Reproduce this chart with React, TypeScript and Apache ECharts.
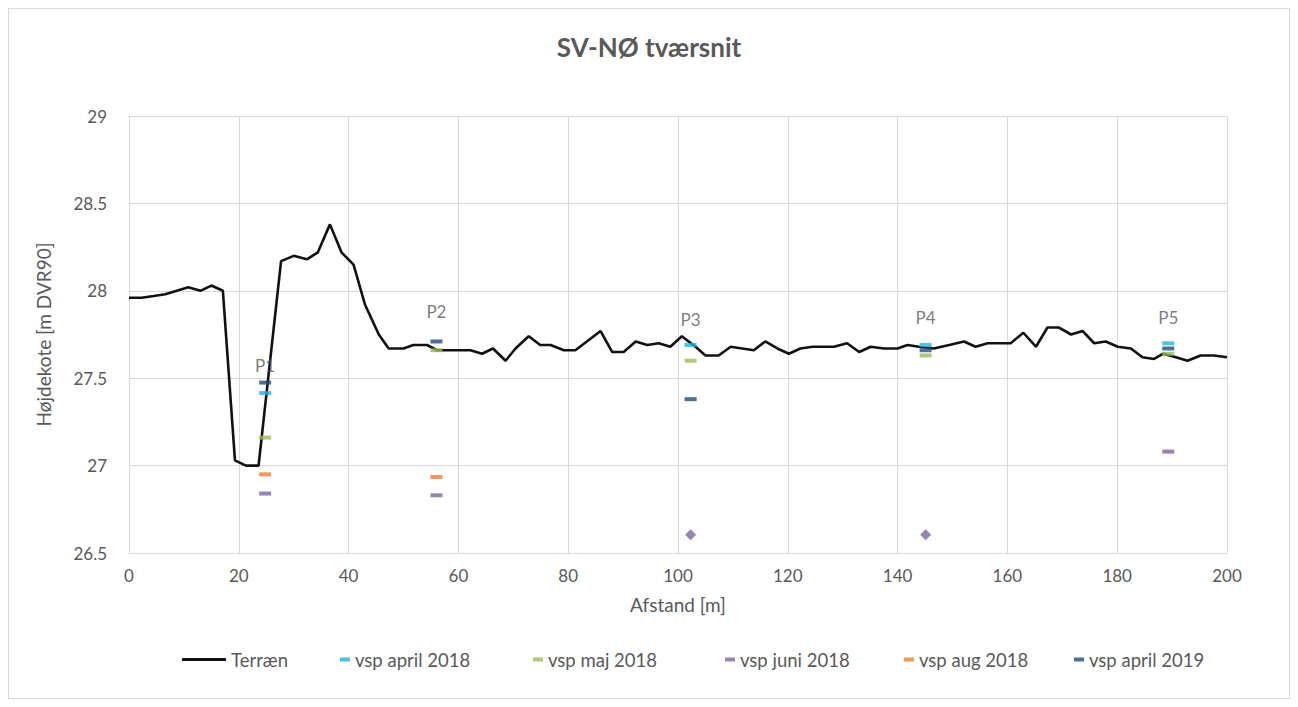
import React, { useEffect, useRef } from "react";
import * as echarts from "echarts";

const terrainX = [0, 2.3, 4.5, 6.6, 8.7, 10.8, 13, 15, 17.1, 19.3, 21.3, 23.6, 27.7, 30, 32.4, 34.4, 36.6, 38.7, 40.9, 43, 45.5, 47.3, 50, 51.8, 54.3, 56.1, 57.9, 60, 62.2, 64.3, 66.3, 68.6, 70.4, 72.8, 74.9, 76.8, 79.2, 81.3, 83.4, 85.9, 88, 90.1, 92.3, 94.4, 96.5, 98.6, 100.7, 103.2, 105, 107.4, 109.6, 111.7, 113.8, 115.9, 118.1, 120.2, 122.3, 124.5, 126.6, 128.4, 130.8, 133, 135.1, 137.5, 140, 141.8, 143.9, 146.6, 149.4, 152.1, 154.2, 156.4, 158.5, 160.6, 162.9, 165.2, 167.3, 169.4, 171.6, 173.7, 175.8, 177.9, 180.1, 182.5, 184.6, 186.7, 188.4, 190.7, 192.8, 195.2, 197.6, 200];
const terrainY = [27.96, 27.96, 27.97, 27.98, 28.0, 28.02, 28.0, 28.03, 28.0, 27.03, 27.0, 27.0, 28.17, 28.2, 28.18, 28.22, 28.38, 28.22, 28.15, 27.92, 27.75, 27.67, 27.67, 27.69, 27.69, 27.66, 27.66, 27.66, 27.66, 27.64, 27.67, 27.6, 27.67, 27.74, 27.69, 27.69, 27.66, 27.66, 27.71, 27.77, 27.65, 27.65, 27.71, 27.69, 27.7, 27.68, 27.74, 27.68, 27.63, 27.63, 27.68, 27.67, 27.66, 27.71, 27.67, 27.64, 27.67, 27.68, 27.68, 27.68, 27.7, 27.65, 27.68, 27.67, 27.67, 27.69, 27.68, 27.67, 27.69, 27.71, 27.68, 27.7, 27.7, 27.7, 27.76, 27.68, 27.79, 27.79, 27.75, 27.77, 27.7, 27.71, 27.68, 27.67, 27.62, 27.61, 27.64, 27.62, 27.6, 27.63, 27.63, 27.62];

const pointNames = ["P1", "P2", "P3", "P4", "P5"];
const pointX = [24.8, 56, 102.3, 145.1, 189.3];
const pointLabelY = [27.57, 27.88, 27.835, 27.85, 27.85];

const april2018X = [24.8, 102.3, 145.1, 189.3];
const april2018Y = [27.415, 27.69, 27.69, 27.7];
const maj2018X = [24.8, 56, 102.3, 145.1, 189.3];
const maj2018Y = [27.16, 27.66, 27.6, 27.63, 27.64];
const juni2018X = [24.8, 56, 189.3];
const juni2018Y = [26.84, 26.83, 27.08];
const juniDiamondX = [102.3, 145.1];
const juniDiamondY = [26.605, 26.605];
const aug2018X = [24.8, 56];
const aug2018Y = [26.95, 26.935];
const april2019X = [24.8, 56, 102.3, 145.1, 189.3];
const april2019Y = [27.475, 27.71, 27.38, 27.66, 27.67];

const FONT = "Lato";
const TEXT = "#595959";

const C_APR18 = "#1fb4e6";
const C_MAJ18 = "#9bbb59";
const C_JUN18 = "#8064a2";
const C_AUG18 = "#ed7d31";
const C_APR19 = "#1f4e79";

const zip = (xs: number[], ys: number[]) => xs.map((x, i) => [x, ys[i]]);

export default function App() {
  const ref = useRef<HTMLDivElement>(null);
  useEffect(() => {
    if (!ref.current) return;
    const chart = echarts.init(ref.current, undefined, { renderer: "svg" });
    const dash = { symbol: "rect", symbolSize: [12, 4] };
    const legendText = { fontFamily: FONT, fontSize: 18.5, color: TEXT };
    const legendPos = [
      { name: "Terræn", left: 173, w: 44, h: 3 },
      { name: "vsp april 2018", left: 331, w: 10, h: 4 },
      { name: "vsp maj 2018", left: 524, w: 10, h: 4 },
      { name: "vsp juni 2018", left: 716, w: 10, h: 4 },
      { name: "vsp aug 2018", left: 895, w: 10, h: 4 },
      { name: "vsp april 2019", left: 1065, w: 10, h: 4 },
    ];
    chart.setOption({
      animation: false,
      backgroundColor: "#ffffff",
      title: {
        text: "SV-NØ tværsnit",
        left: "center",
        top: 20,
        textStyle: { fontFamily: FONT, fontSize: 26, fontWeight: "bold", color: TEXT },
      },
      legend: legendPos.map((l) => ({
        data: [{ name: l.name, icon: "rect" }],
        left: l.left,
        top: 641,
        padding: 0,
        itemWidth: l.w,
        itemHeight: l.h,
        itemGap: 10,
        textStyle: legendText,
        selectedMode: false,
      })),
      grid: { left: 120, right: 62, top: 107, bottom: 145, containLabel: false },
      xAxis: {
        type: "value",
        min: 0,
        max: 200,
        interval: 20,
        name: "Afstand [m]",
        nameLocation: "middle",
        nameGap: 42,
        nameTextStyle: { fontFamily: FONT, fontSize: 19, color: TEXT },
        axisLine: { show: true, lineStyle: { color: "#d9d9d9", width: 1 } },
        axisTick: { show: false },
        axisLabel: { fontFamily: FONT, fontSize: 17, color: TEXT, margin: 14 },
        splitLine: { show: true, lineStyle: { color: "#d9d9d9", width: 1 } },
      },
      yAxis: {
        type: "value",
        min: 26.5,
        max: 29,
        interval: 0.5,
        name: "Højdekote [m DVR90]",
        nameLocation: "middle",
        nameGap: 76,
        nameTextStyle: { fontFamily: FONT, fontSize: 19, color: TEXT },
        axisLine: { show: true, lineStyle: { color: "#d9d9d9", width: 1 } },
        axisTick: { show: false },
        axisLabel: { fontFamily: FONT, fontSize: 17, color: TEXT, margin: 22 },
        splitLine: { show: true, lineStyle: { color: "#d9d9d9", width: 1 } },
      },
      series: [
        {
          name: "Terræn",
          type: "line",
          data: zip(terrainX, terrainY),
          symbol: "none",
          lineStyle: { color: "#111111", width: 2.6 },
          itemStyle: { color: "#111111" },
          z: 3,
        },
        {
          name: "vsp april 2018",
          type: "scatter",
          data: zip(april2018X, april2018Y),
          ...dash,
          itemStyle: { color: C_APR18 },
          z: 4,
        },
        {
          name: "vsp maj 2018",
          type: "scatter",
          data: zip(maj2018X, maj2018Y),
          ...dash,
          itemStyle: { color: C_MAJ18 },
          z: 4,
        },
        {
          name: "vsp juni 2018",
          type: "scatter",
          data: [
            ...zip(juni2018X, juni2018Y),
            ...zip(juniDiamondX, juniDiamondY).map((v) => ({ value: v, symbol: "diamond", symbolSize: [11, 11] })),
          ],
          ...dash,
          itemStyle: { color: C_JUN18 },
          z: 4,
        },
        {
          name: "vsp aug 2018",
          type: "scatter",
          data: zip(aug2018X, aug2018Y),
          ...dash,
          itemStyle: { color: C_AUG18 },
          z: 4,
        },
        {
          name: "vsp april 2019",
          type: "scatter",
          data: zip(april2019X, april2019Y),
          ...dash,
          itemStyle: { color: C_APR19 },
          z: 5,
        },
        {
          name: "labels",
          type: "scatter",
          data: pointNames.map((n, i) => ({ name: n, value: [pointX[i], pointLabelY[i]] })),
          symbolSize: 0,
          silent: true,
          label: {
            show: true,
            position: "inside",
            formatter: (p: any) => p.name,
            fontFamily: FONT,
            fontSize: 17,
            color: TEXT,
          },
          z: 6,
        },
      ],
    });
    return () => chart.dispose();
  }, []);
  return (
    <div style={{ width: 1280, height: 689, border: "1px solid #d9d9d9" }}>
      <div ref={ref} style={{ width: 1280, height: 689 }} />
    </div>
  );
}
